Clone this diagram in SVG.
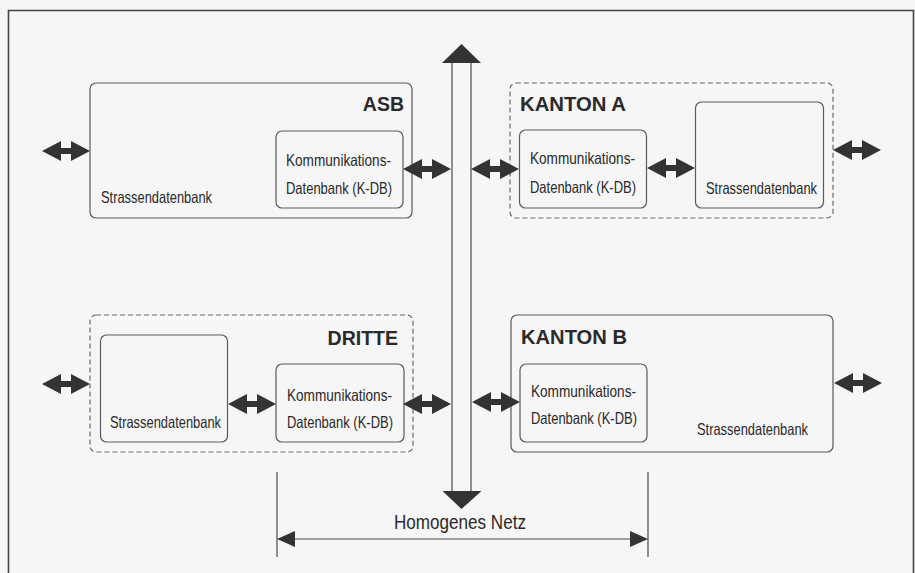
<svg xmlns="http://www.w3.org/2000/svg" xmlns:xlink="http://www.w3.org/1999/xlink" width="915" height="573" viewBox="0 0 915 573">
<style>
.box{fill:none;stroke:#5a5a5a;stroke-width:1.2}
.dash{fill:none;stroke:#6a6a6a;stroke-width:1.2;stroke-dasharray:5 3}
.t{font-family:"Liberation Sans",Arial,sans-serif;font-size:16.5px;fill:#2a2a2a}
.h{font-family:"Liberation Sans",Arial,sans-serif;font-size:19.5px;font-weight:bold;fill:#2a2a2a}
.ln{stroke:#4a4a4a;stroke-width:1.2;fill:none}
.ah{fill:#333}
</style>
<defs>
<polygon id="dbl" points="0,0 19,-10 19,-3 29,-3 29,-10 48,0 29,10 29,3 19,3 19,10" fill="#333"/>
</defs>
<rect x="0" y="0" width="915" height="573" fill="#f6f6f6"/>
<path d="M8.5,580 V10.5 H913.5 V580" fill="none" stroke="#444" stroke-width="1.6"/>

<g id="asb">
<rect class="box" x="90" y="83" width="322" height="135" rx="6"/>
<text class="h" x="404" y="111" text-anchor="end">ASB</text>
<text class="t" x="101" y="203" textLength="111" lengthAdjust="spacingAndGlyphs">Strassendatenbank</text>
<rect class="box" x="276" y="131" width="127" height="77" rx="6"/>
<text class="t" x="286" y="166" textLength="105" lengthAdjust="spacingAndGlyphs">Kommunikations-</text>
<text class="t" x="286" y="194" textLength="106" lengthAdjust="spacingAndGlyphs">Datenbank (K-DB)</text>
</g>

<g id="kantonA">
<rect class="dash" x="510" y="83" width="323" height="135" rx="6"/>
<text class="h" x="520" y="111" textLength="106" lengthAdjust="spacingAndGlyphs">KANTON A</text>
<rect class="box" x="519.5" y="130" width="127" height="78" rx="6"/>
<text class="t" x="530" y="164" textLength="105" lengthAdjust="spacingAndGlyphs">Kommunikations-</text>
<text class="t" x="530" y="193" textLength="106" lengthAdjust="spacingAndGlyphs">Datenbank (K-DB)</text>
<rect class="box" x="695.5" y="102" width="128" height="106" rx="6"/>
<text class="t" x="706" y="194" textLength="111" lengthAdjust="spacingAndGlyphs">Strassendatenbank</text>
</g>

<g id="dritte">
<rect class="dash" x="90" y="315" width="323" height="137" rx="6"/>
<text class="h" x="398" y="345" text-anchor="end">DRITTE</text>
<rect class="box" x="100.5" y="335" width="127" height="107" rx="6"/>
<text class="t" x="110" y="428" textLength="111" lengthAdjust="spacingAndGlyphs">Strassendatenbank</text>
<rect class="box" x="276" y="364" width="128" height="78" rx="6"/>
<text class="t" x="287" y="401" textLength="105" lengthAdjust="spacingAndGlyphs">Kommunikations-</text>
<text class="t" x="287" y="428" textLength="106" lengthAdjust="spacingAndGlyphs">Datenbank (K-DB)</text>
</g>

<g id="kantonB">
<rect class="box" x="511" y="315" width="322" height="137" rx="6"/>
<text class="h" x="521" y="344" textLength="106" lengthAdjust="spacingAndGlyphs">KANTON B</text>
<rect class="box" x="520" y="364" width="127" height="78" rx="6"/>
<text class="t" x="531" y="397" textLength="105" lengthAdjust="spacingAndGlyphs">Kommunikations-</text>
<text class="t" x="531" y="424" textLength="106" lengthAdjust="spacingAndGlyphs">Datenbank (K-DB)</text>
<text class="t" x="697" y="435" textLength="111" lengthAdjust="spacingAndGlyphs">Strassendatenbank</text>
</g>

<g id="netz">
<line class="ln" x1="452" y1="62" x2="452" y2="492"/>
<line class="ln" x1="471" y1="62" x2="471" y2="492"/>
<polygon class="ah" points="461.5,44 442,63 481,63"/>
<polygon class="ah" points="442.5,491 481.5,491 461.5,509"/>
</g>

<g id="connectors">
<use xlink:href="#dbl" x="42" y="151"/>
<use xlink:href="#dbl" x="403" y="169"/>
<use xlink:href="#dbl" x="471" y="169"/>
<use xlink:href="#dbl" x="647" y="168"/>
<use xlink:href="#dbl" x="833" y="150"/>
<use xlink:href="#dbl" x="42" y="384"/>
<use xlink:href="#dbl" x="228" y="404"/>
<use xlink:href="#dbl" x="403" y="404"/>
<use xlink:href="#dbl" x="472" y="402"/>
<use xlink:href="#dbl" x="834" y="383"/>
</g>

<g id="dimension">
<line class="ln" x1="277" y1="472" x2="277" y2="557"/>
<line class="ln" x1="648" y1="472" x2="648" y2="557"/>
<line class="ln" x1="290" y1="539" x2="636" y2="539"/>
<polygon class="ah" points="277,539 295,531 295,547"/>
<polygon class="ah" points="648,539 630,531 630,547"/>
<text class="t" x="460" y="529" text-anchor="middle" style="font-size:20px" textLength="132" lengthAdjust="spacingAndGlyphs">Homogenes Netz</text>
</g>
</svg>
